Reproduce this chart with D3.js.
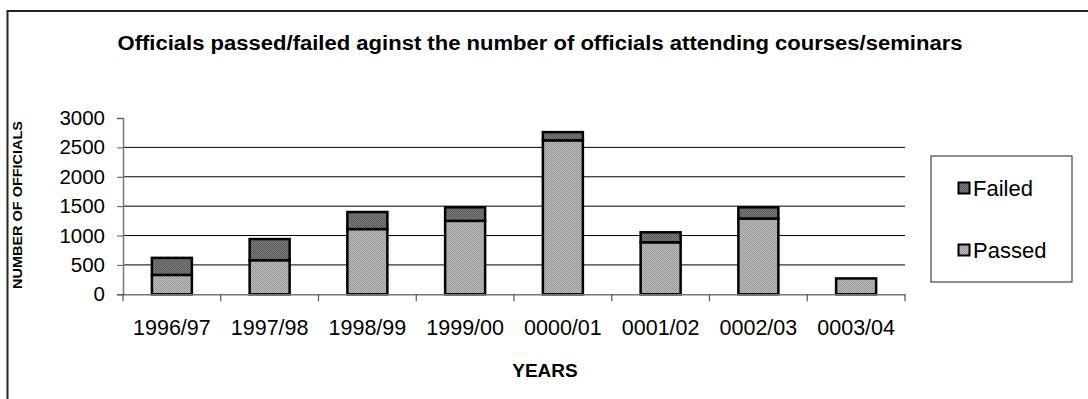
<!DOCTYPE html>
<html>
<head>
<meta charset="utf-8">
<script src="https://cdn.jsdelivr.net/npm/d3@7"></script>
<style>
  html, body { margin: 0; padding: 0; background: #fff; }
  svg { display: block; font-family: "Liberation Sans", Arial, sans-serif; }
</style>
</head>
<body>
<svg id="chart" width="1088" height="399"></svg>
<script>
// Officials attending courses/seminars per year, split by result
const years   = ["1996/97", "1997/98", "1998/99", "1999/00", "0000/01", "0001/02", "0002/03", "0003/04"];
const passed  = [330, 580, 1110, 1250, 2620, 885, 1290, 270];
const failed  = [290, 360, 290, 230, 140, 170, 190, 0];
const yTicks  = [0, 500, 1000, 1500, 2000, 2500, 3000];
const seriesNames = ["Passed", "Failed"];

const svg = d3.select("#chart");
const W = 1088, H = 399;
const plot = { left: 123, right: 905, top: 118, bottom: 294.3 };

// Textured fills for the two series
const defs = svg.append("defs");
function dotPattern(id, base, dot) {
  const p = defs.append("pattern")
    .attr("id", id).attr("width", 2).attr("height", 2)
    .attr("patternUnits", "userSpaceOnUse");
  p.append("rect").attr("width", 2).attr("height", 2).attr("fill", base);
  p.append("rect").attr("width", 1).attr("height", 1).attr("fill", dot);
  p.append("rect").attr("x", 1).attr("y", 1).attr("width", 1).attr("height", 1).attr("fill", dot);
}
dotPattern("fillPassed", "#bdbdbd", "#979797");
dotPattern("fillFailed", "#7c7c7c", "#5a5a5a");
const fills = { Passed: "url(#fillPassed)", Failed: "url(#fillFailed)" };

// Outer chart frame (runs off the right and bottom edges)
svg.append("path")
  .attr("d", `M7.5,${H + 5} V11 H${W + 5}`)
  .attr("fill", "none").attr("stroke", "#222").attr("stroke-width", 2);

const x = d3.scaleBand().domain(years).range([plot.left, plot.right]).paddingInner(0).paddingOuter(0);
const y = d3.scaleLinear().domain([0, 3000]).range([plot.bottom, plot.top]);

// Horizontal gridlines
svg.append("g").selectAll("line")
  .data(yTicks.filter(t => t > 0 && t < 3000))
  .join("line")
  .attr("x1", plot.left).attr("x2", plot.right)
  .attr("y1", d => y(d)).attr("y2", d => y(d))
  .attr("stroke", "#000").attr("stroke-width", 1);

// Stacked bars
const rows = years.map((yr, i) => ({ year: yr, Passed: passed[i], Failed: failed[i] }));
const stacked = d3.stack().keys(seriesNames)(rows);
const barW = 40;
svg.append("g").selectAll("g")
  .data(stacked)
  .join("g")
  .attr("fill", d => fills[d.key])
  .selectAll("rect")
  .data(d => d.filter(s => s[1] - s[0] > 0))
  .join("rect")
  .attr("x", d => x(d.data.year) + x.bandwidth() / 2 - barW / 2)
  .attr("width", barW)
  .attr("y", d => y(d[1]))
  .attr("height", d => y(d[0]) - y(d[1]))
  .attr("stroke", "#000").attr("stroke-width", 2.5);

// Y axis
const yAxis = svg.append("g")
  .attr("transform", `translate(${plot.left},0)`)
  .call(d3.axisLeft(y).tickValues(yTicks).tickSize(6).tickPadding(12).tickFormat(d3.format("d")));
yAxis.select(".domain").attr("stroke", "#777").attr("stroke-width", 1.5);
yAxis.selectAll(".tick line").attr("stroke", "#555");
yAxis.selectAll("text").attr("font-size", 20.5).attr("fill", "#000")
  .attr("font-family", "'Liberation Sans', Arial, sans-serif");

// X axis with ticks between categories
const xAxis = svg.append("g")
  .attr("transform", `translate(0,${plot.bottom})`)
  .call(d3.axisBottom(x).tickSize(0).tickPadding(25));
xAxis.select(".domain").attr("stroke", "#777").attr("stroke-width", 1.5);
xAxis.selectAll("text").attr("font-size", 21.5).attr("fill", "#000")
  .attr("font-family", "'Liberation Sans', Arial, sans-serif");
xAxis.selectAll(".sep")
  .data(d3.range(years.length + 1))
  .join("line").attr("class", "sep")
  .attr("x1", i => plot.left + i * x.bandwidth())
  .attr("x2", i => plot.left + i * x.bandwidth())
  .attr("y1", 0).attr("y2", 7)
  .attr("stroke", "#555").attr("stroke-width", 1.2);

// Titles
svg.append("text")
  .attr("x", 540).attr("y", 50)
  .attr("text-anchor", "middle")
  .attr("font-size", 20).attr("font-weight", "bold")
  .attr("textLength", 845).attr("lengthAdjust", "spacingAndGlyphs")
  .text("Officials passed/failed aginst the number of officials attending courses/seminars");

svg.append("text")
  .attr("x", 545).attr("y", 377)
  .attr("text-anchor", "middle")
  .attr("font-size", 19).attr("font-weight", "bold")
  .text("YEARS");

svg.append("text")
  .attr("transform", "translate(22,205) rotate(-90)")
  .attr("text-anchor", "middle")
  .attr("font-size", 13).attr("font-weight", "bold")
  .attr("textLength", 168).attr("lengthAdjust", "spacingAndGlyphs")
  .text("NUMBER OF OFFICIALS");

// Legend
const lg = svg.append("g").attr("transform", "translate(931,156)");
lg.append("rect").attr("width", 141).attr("height", 126)
  .attr("fill", "#fff").attr("stroke", "#444").attr("stroke-width", 1.2);
const legendItems = ["Failed", "Passed"];
const lgY = d3.scalePoint().domain(legendItems).range([32, 94]);
legendItems.forEach(k => {
  lg.append("rect")
    .attr("x", 27.5).attr("y", lgY(k) - 5.5)
    .attr("width", 11).attr("height", 11)
    .attr("fill", fills[k]).attr("stroke", "#000").attr("stroke-width", 2);
  lg.append("text")
    .attr("x", 42).attr("y", lgY(k) + 7.5)
    .attr("font-size", 22)
    .text(k);
});
</script>
</body>
</html>
